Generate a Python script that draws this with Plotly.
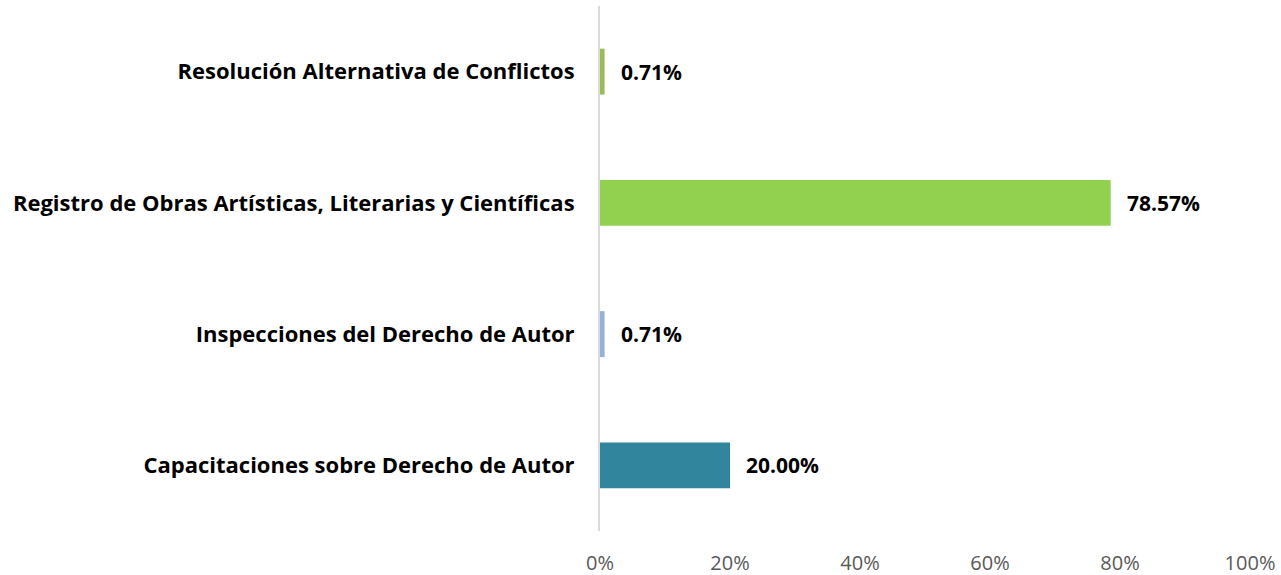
import plotly.graph_objects as go

categorias = ["Capacitaciones sobre Derecho de Autor",
              "Inspecciones del Derecho de Autor",
              "Registro de Obras Artísticas, Literarias y Científicas",
              "Resolución Alternativa de Conflictos"]
porcentajes = [20.00, 0.71, 78.57, 0.71]
colores = ["#31859c", "#95b3d7", "#92d050", "#9bbb59"]
ticks = [0, 20, 40, 60, 80, 100]
tick_text = ["0%", "20%", "40%", "60%", "80%", "100%"]

fig = go.Figure(go.Bar(
    y=categorias, x=porcentajes, orientation="h",
    marker=dict(color=colores, line=dict(width=0)),
    width=0.35,
))

for c, v in zip(categorias, porcentajes):
    fig.add_annotation(x=v, y=c, text="<b>%.2f%%</b>" % v, showarrow=False,
                       xanchor="left", xshift=14,
                       font=dict(family="Open Sans", size=21, color="#000000"))

fig.update_layout(
    width=1281, height=575,
    margin=dict(l=600, r=31, t=6, b=44),
    plot_bgcolor="white", paper_bgcolor="white",
    showlegend=False,
    font=dict(family="Open Sans"),
    xaxis=dict(range=[0, 100], tickvals=ticks, ticktext=tick_text,
               showgrid=False, zeroline=False, showline=False,
               automargin=False, ticklabelstandoff=18,
               tickfont=dict(size=20, color="#595959")),
    yaxis=dict(showgrid=False, zeroline=False, showline=True,
               linecolor="#d9d9d9", linewidth=2, automargin=False,
               ticklabelstandoff=19, range=[-0.5, 3.5],
               tickfont=dict(size=22, color="#000000", weight="bold")),
)

# page has default 8px body margin, drop it so the figure fills the window
fig.write_html("out.html", config={"displayModeBar": False},
               post_script="document.body.style.margin='0';")
